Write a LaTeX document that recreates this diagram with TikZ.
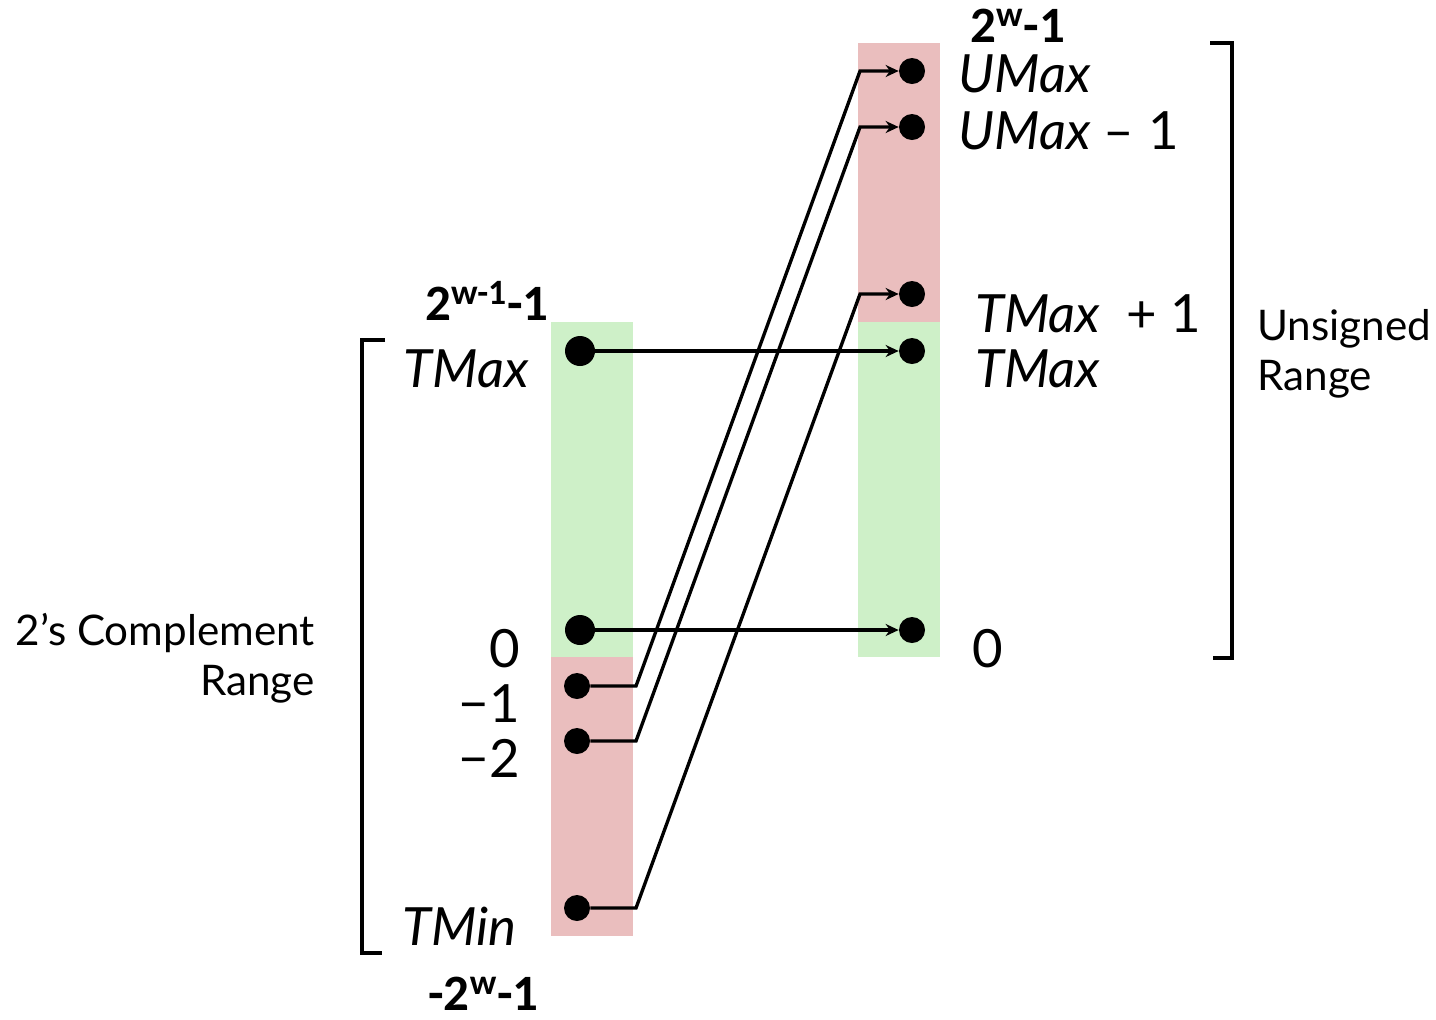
\documentclass[tikz,border=0pt]{standalone}
\usepackage{fontspec}
\setmainfont{Lato}
\newfontfamily\boundfont{Carlito}
\usetikzlibrary{arrows.meta}
\definecolor{negred}{RGB}{234,190,190}
\definecolor{posgreen}{RGB}{206,240,200}

\begin{document}
\begin{tikzpicture}[x=0.02cm,y=-0.02cm,
  dot/.style={circle,fill=black,inner sep=0pt,minimum size=#1},
  dot/.default=0.52cm,
  val/.style={inner sep=0pt,font=\fontsize{30}{34}\selectfont\itshape},
  num/.style={inner sep=0pt,font=\fontsize{30}{34}\selectfont},
  bound/.style={inner sep=0pt,text depth=0pt,font=\boundfont\bfseries\fontsize{29}{30}\selectfont},
  side/.style={inner sep=0pt,font=\fontsize{24}{28}\selectfont},
  map/.style={line width=1.9pt,-{Stealth[length=2.6mm,width=2.4mm]}},
  brace/.style={line width=2.2pt}]
  \useasboundingbox (0,0) rectangle (1436,1019);
  % the two columns
  \fill[posgreen] (551,322) rectangle (633,657);
  \fill[negred] (551,657) rectangle (633,936);
  \fill[negred] (858,43) rectangle (940,322);
  \fill[posgreen] (858,322) rectangle (940,657);
  % two's complement side
  \node[dot=0.6cm] (tmax) at (580,351) {};
  \node[dot=0.6cm] (zero) at (580,630) {};
  \node[dot] (m1) at (577,686) {};
  \node[dot] (m2) at (577,741) {};
  \node[dot] (tmin) at (577,908) {};
  \node[val,anchor=base east] (tmaxl) at (529,387) {TMax};
  \node[num,anchor=base east] (zerol) at (520,667) {0};
  \node[num,anchor=base east] (m1l) at (520,722) {−1};
  \node[num,anchor=base east] (m2l) at (520,777) {−2};
  \node[val,anchor=base east] (tminl) at (517,945) {TMin};
  \node[bound,anchor=base west] (tmaxb) at (425,320) {2\textsuperscript{w-1}-1};
  \node[bound,anchor=base west] (tminb) at (428,1010) {-2\textsuperscript{w}-1};
  % unsigned side
  \node[dot] (umax) at (912,71) {};
  \node[dot] (umax1) at (912,127) {};
  \node[dot] (utmax1) at (912,294) {};
  \node[dot] (utmax) at (912,351) {};
  \node[dot] (uzero) at (912,630) {};
  \node[val,anchor=base west] (umaxl) at (958,92) {UMax};
  \node[val,anchor=base west] (umax1l) at (958,149) {UMax\upshape~–~1};
  \node[val,anchor=base west] (utmax1l) at (975,332) {TMax\upshape\hspace{0.5em}+~1};
  \node[val,anchor=base west] (utmaxl) at (975,387) {TMax};
  \node[num,anchor=base west] (uzerol) at (972,667) {0};
  \node[bound,anchor=base west] (umaxb) at (970,42) {2\textsuperscript{w}-1};
  % mappings
  \draw[map] (tmax) -- (utmax);
  \draw[map] (zero) -- (uzero);
  \draw[map] (m1) -- ++(59,0) -- ([xshift=-1.04cm]umax.center) -- (umax);
  \draw[map] (m2) -- ++(59,0) -- ([xshift=-1.04cm]umax1.center) -- (umax1);
  \draw[map] (tmin) -- ++(59,0) -- ([xshift=-1.04cm]utmax1.center) -- (utmax1);
  % ranges
  \draw[brace] (385,340) -- (362,340) -- (362,953) -- (382,953);
  \draw[brace] (1210,43) -- (1232,43) -- (1232,658) -- (1213,658);
  \node[side,anchor=base east,align=right] (tcrange) at (315,695) {2’s Complement\\Range};
  \node[side,anchor=base west,align=left] (urange) at (1257,390) {Unsigned\\Range};
\end{tikzpicture}
\end{document}
